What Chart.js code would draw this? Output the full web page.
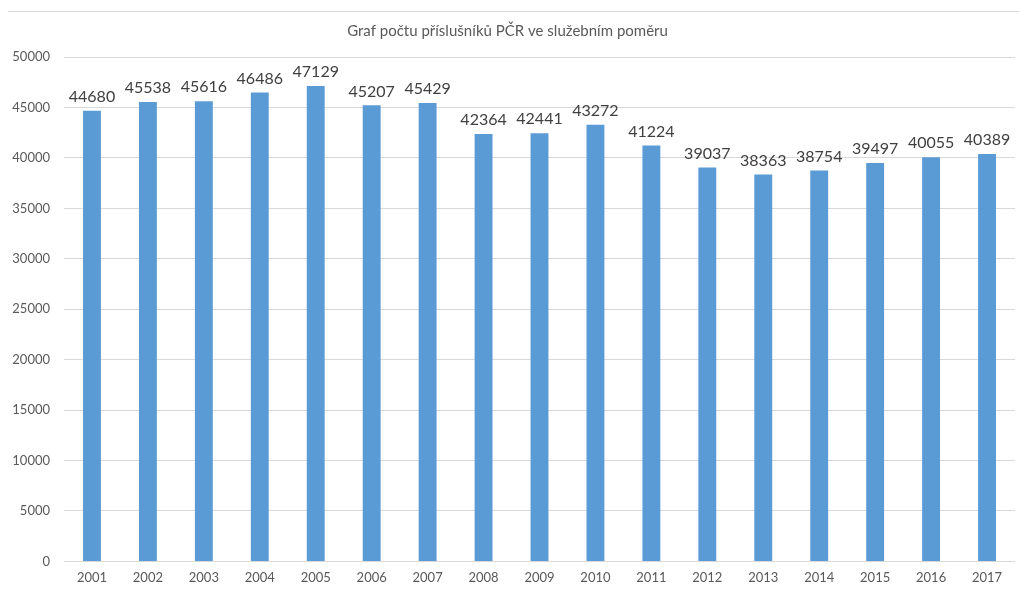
<!DOCTYPE html>
<html lang="cs">
<head>
<meta charset="UTF-8">
<script src="https://cdn.jsdelivr.net/npm/chart.js"></script>
<style>
  html, body { margin: 0; padding: 0; background: #ffffff; }
  #wrap { width: 1019px; height: 595px; position: relative; }
</style>
</head>
<body>
<div id="wrap"><canvas id="c"></canvas></div>
<script>
const years = ['2001', '2002', '2003', '2004', '2005', '2006', '2007', '2008', '2009',
  '2010', '2011', '2012', '2013', '2014', '2015', '2016', '2017'];
const members = [44680, 45538, 45616, 46486, 47129, 45207, 45429, 42364, 42441,
  43272, 41224, 39037, 38363, 38754, 39497, 40055, 40389];

const font = 'Lato, "Open Sans", sans-serif';

// value labels above the bars + thin line at the top of the frame
const extras = {
  id: 'extras',
  afterDatasetsDraw(chart) {
    const ctx = chart.ctx;
    ctx.save();
    ctx.strokeStyle = '#d9d9d9';
    ctx.lineWidth = 1;
    ctx.beginPath();
    ctx.moveTo(8, 11.5);
    ctx.lineTo(1019, 11.5);
    ctx.stroke();

    ctx.font = '16px ' + font;
    ctx.fillStyle = '#404040';
    ctx.textAlign = 'center';
    ctx.textBaseline = 'bottom';
    chart.getDatasetMeta(0).data.forEach((bar, i) => {
      ctx.fillText(String(members[i]), bar.x, bar.y - 6);
    });
    ctx.restore();
  }
};

new Chart(document.getElementById('c'), {
  type: 'bar',
  data: {
    labels: years,
    datasets: [{
      data: members,
      backgroundColor: '#5b9bd5',
      borderWidth: 0,
      categoryPercentage: 1,
      barPercentage: 0.32
    }]
  },
  options: {
    responsive: true,
    maintainAspectRatio: false,
    animation: false,
    layout: { padding: { top: 15, right: 4, bottom: 0, left: 0 } },
    plugins: {
      legend: { display: false },
      tooltip: { enabled: false },
      title: {
        display: true,
        text: 'Graf počtu příslušníků PČR ve služebním poměru',
        color: '#595959',
        font: { family: font, size: 15, weight: 'normal' },
        padding: { top: 7, bottom: 17 }
      }
    },
    scales: {
      x: {
        grid: { display: false, drawTicks: false, tickLength: 0 },
        border: { display: false },
        ticks: { color: '#595959', font: { family: font, size: 13 }, padding: 9 }
      },
      y: {
        min: 0,
        max: 50000,
        afterFit(scale) { scale.width = 64; },
        grid: { color: '#d9d9d9', drawTicks: false },
        border: { display: false },
        ticks: {
          stepSize: 5000,
          color: '#595959',
          font: { family: font, size: 13 },
          padding: 14,
          callback: v => String(v)
        }
      }
    }
  },
  plugins: [extras]
});
</script>
</body>
</html>
